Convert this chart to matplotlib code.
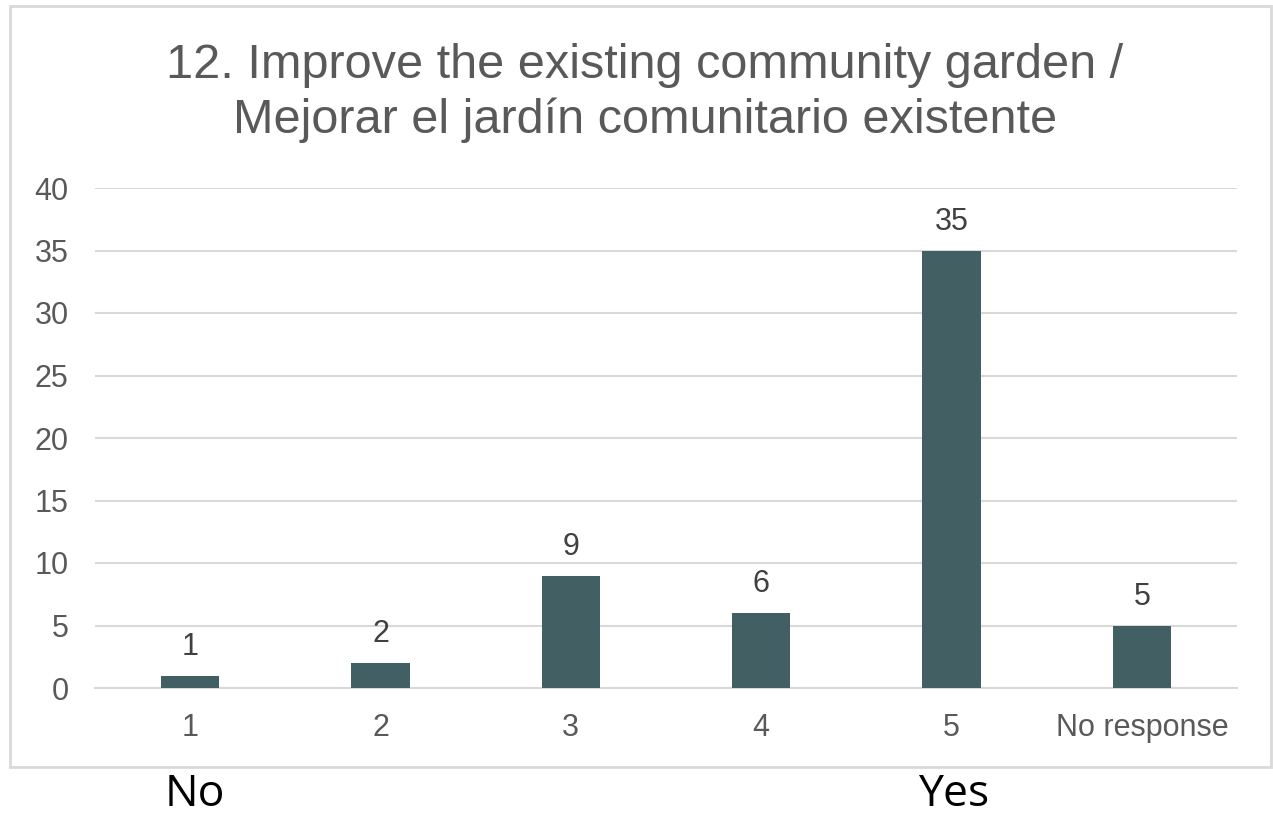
import matplotlib.pyplot as plt
import matplotlib.patches as patches

plt.rcParams['font.family'] = ['Liberation Sans', 'DejaVu Sans']

# data
categories = ['1', '2', '3', '4', '5', 'No response']
counts = [1, 2, 9, 6, 35, 5]
y_ticks = [0, 5, 10, 15, 20, 25, 30, 35, 40]

W, H = 1273, 815
fig = plt.figure(figsize=(W / 100, H / 100), dpi=100)

# outer chart border
border = patches.Rectangle((10 / W, 1 - 767 / H), 1261 / W, 761 / H,
                           transform=fig.transFigure, fill=False,
                           edgecolor='#d9d9d9', linewidth=2)
fig.patches.append(border)

ax = fig.add_axes([95 / W, 1 - 688 / H, 1142 / W, 500 / H])
x = list(range(len(categories)))
bars = ax.bar(x, counts, width=0.305, color='#426063', zorder=3)
ax.set_xlim(-0.5, len(categories) - 0.5)
ax.set_ylim(0, 40)
ax.set_yticks(y_ticks)
ax.set_xticks(x)
ax.set_xticklabels(categories)
ax.grid(axis='y', color='#d9d9d9', linewidth=1.5, zorder=0)
for s in ['top', 'right', 'left']:
    ax.spines[s].set_visible(False)
ax.spines['bottom'].set_color('#d9d9d9')
ax.spines['bottom'].set_linewidth(1.5)
ax.tick_params(length=0, labelsize=22, colors='#595959')
ax.tick_params(axis='y', pad=19)
ax.tick_params(axis='x', pad=18)

for b, v in zip(bars, counts):
    ax.annotate(str(v), (b.get_x() + b.get_width() / 2, v),
                xytext=(0, 10), textcoords='offset points',
                ha='center', va='bottom', fontsize=22, color='#404040')

# title
fig.text(645 / W, 1 - 65 / H, '12. Improve the existing community garden /',
         ha='center', va='center', fontsize=35, color='#595959')
fig.text(645 / W, 1 - 120 / H, 'Mejorar el jardín comunitario existente',
         ha='center', va='center', fontsize=35, color='#595959')

# scale end labels below the chart
fig.text(195 / W, 1 - 795 / H, 'No', ha='center', va='center',
         fontsize=32, color='black', family='Open Sans')
fig.text(955 / W, 1 - 795 / H, 'Yes', ha='center', va='center',
         fontsize=32, color='black', family='Open Sans')

fig.savefig('out.png', dpi=100)
